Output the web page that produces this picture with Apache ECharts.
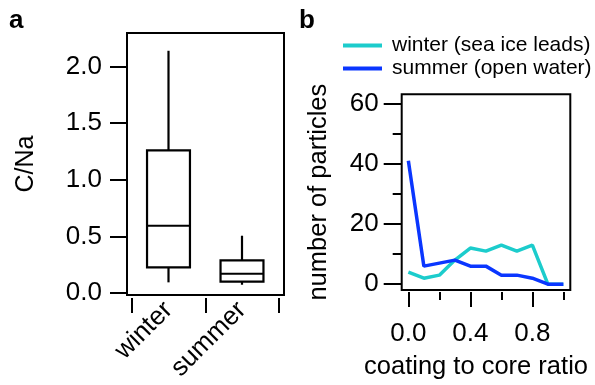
<!DOCTYPE html>
<html><head><meta charset="utf-8">
<script src="https://cdn.jsdelivr.net/npm/echarts@6/dist/echarts.min.js"></script>
<style>html,body{margin:0;padding:0;background:#fff}#c{width:595px;height:385px}</style>
</head><body><div id="c"></div>
<script>
// ---- Panel a: box plot of C/Na ----
const boxCategories = ['winter', 'summer'];
// [min, Q1, median, Q3, max]
const winterBox = [0.094, 0.226, 0.594, 1.26, 2.14];
const summerBox = [0.073, 0.10, 0.17, 0.288, 0.506];
const boxYTicks = [0, 0.5, 1.0, 1.5, 2.0];
const boxXTicks = [-0.5, 0.5, 1.5];

// ---- Panel b: histogram lines ----
const ratioBins = [0.0, 0.1, 0.2, 0.3, 0.4, 0.5, 0.6, 0.7, 0.8, 0.9, 1.0];
const winterCounts = [4, 2, 3, 8, 12, 11, 13, 11, 13, 0, 0];
const summerCounts = [41, 6, 7, 8, 6, 6, 3, 3, 2, 0, 0];
const countMajorTicks = [0, 20, 40, 60];
const countMinorTicks = [10, 30, 50];
const ratioMajorTicks = [0.0, 0.4, 0.8];
const ratioMinorTicks = [0.2, 0.6, 1.0];
const seriesNames = ['winter (sea ice leads)', 'summer (open water)'];

const FONT = 'Liberation Sans';
const BLACK = '#000';
const CYAN = '#1ccccc';
const BLUE = '#0a36ff';
const tickStyle = { color: BLACK, width: 2 };
const noLine = { show: false, onZero: false };

const chart = echarts.init(document.getElementById('c'), null, { renderer: 'canvas' });

function boxRender(params, api) {
  const x = api.value(0);
  const pLo = api.coord([x, api.value(1)]);
  const pQ1 = api.coord([x, api.value(2)]);
  const pMed = api.coord([x, api.value(3)]);
  const pQ3 = api.coord([x, api.value(4)]);
  const pHi = api.coord([x, api.value(5)]);
  const halfW = api.size([1, 0])[0] * 0.292;
  const st = { stroke: BLACK, lineWidth: 2.2, fill: null };
  return {
    type: 'group',
    children: [
      { type: 'line', shape: { x1: pQ3[0], y1: pQ3[1], x2: pHi[0], y2: pHi[1] }, style: st },
      { type: 'line', shape: { x1: pQ1[0], y1: pQ1[1], x2: pLo[0], y2: pLo[1] }, style: st },
      { type: 'rect', shape: { x: pQ3[0] - halfW, y: pQ3[1], width: 2 * halfW, height: pQ1[1] - pQ3[1] },
        style: { stroke: BLACK, lineWidth: 2.2, fill: '#fff' } },
      { type: 'line', shape: { x1: pMed[0] - halfW, y1: pMed[1], x2: pMed[0] + halfW, y2: pMed[1] }, style: st }
    ]
  };
}

const option = {
  backgroundColor: '#fff',
  animation: false,
  textStyle: { fontFamily: FONT, color: BLACK },
  title: [
    { text: 'a', left: 9, top: 8, padding: 0, textStyle: { fontSize: 26, fontWeight: 'bold', color: BLACK, fontFamily: FONT } },
    { text: 'b', left: 299, top: 8, padding: 0, textStyle: { fontSize: 26, fontWeight: 'bold', color: BLACK, fontFamily: FONT } }
  ],
  legend: {
    orient: 'vertical', left: 343, top: 34, padding: 0,
    icon: 'rect', itemWidth: 39, itemHeight: 4, itemGap: 0,
    textStyle: { fontSize: 21, lineHeight: 23, color: BLACK, fontFamily: FONT, padding: [0, 0, 0, 5] },
    data: [
      { name: seriesNames[0], itemStyle: { color: CYAN } },
      { name: seriesNames[1], itemStyle: { color: BLUE } }
    ]
  },
  grid: [
    { left: 127, top: 33, width: 157, height: 262, show: true, borderColor: BLACK, borderWidth: 2, backgroundColor: 'transparent' },
    { left: 401.7, top: 94.3, width: 168.6, height: 201.7, show: true, borderColor: BLACK, borderWidth: 2, backgroundColor: 'transparent' }
  ],
  xAxis: [
    { gridIndex: 0, type: 'value', position: 'bottom', min: -0.5646, max: 1.5714, offset: 3,
      axisLine: noLine, splitLine: { show: false },
      axisTick: { show: true, length: 15, lineStyle: tickStyle, customValues: boxXTicks },
      axisLabel: { customValues: [0, 1], formatter: v => boxCategories[Math.round(v)], rotate: 45, margin: 8,
        fontSize: 26, color: BLACK, fontFamily: FONT } },
    { gridIndex: 1, type: 'value', position: 'bottom', min: -0.043, max: 1.0447, offset: 2,
      axisLine: noLine, splitLine: { show: false },
      axisTick: { show: true, length: 15, lineStyle: tickStyle, customValues: ratioMajorTicks },
      axisLabel: { customValues: ratioMajorTicks, formatter: v => v.toFixed(1), margin: 29,
        fontSize: 26, color: BLACK, fontFamily: FONT },
      name: 'coating to core ratio', nameLocation: 'middle', nameGap: 62,
      nameTextStyle: { fontSize: 25.5, color: BLACK, fontFamily: FONT, padding: [0, 20, 0, 0] } },
    { gridIndex: 1, type: 'value', position: 'bottom', min: -0.043, max: 1.0447, offset: 2,
      axisLine: noLine, splitLine: { show: false },
      axisTick: { show: true, length: 8, lineStyle: tickStyle, customValues: ratioMinorTicks },
      axisLabel: { show: false } }
  ],
  yAxis: [
    { gridIndex: 0, type: 'value', position: 'left', min: -0.0177, max: 2.297,
      axisLine: noLine, splitLine: { show: false },
      axisTick: { show: true, length: 17, lineStyle: tickStyle, customValues: boxYTicks },
      axisLabel: { customValues: boxYTicks, formatter: v => v.toFixed(1), margin: 25,
        fontSize: 26, color: BLACK, fontFamily: FONT },
      name: 'C/Na', nameLocation: 'middle', nameGap: 88,
      nameTextStyle: { fontSize: 25, color: BLACK, fontFamily: FONT } },
    { gridIndex: 1, type: 'value', position: 'left', min: -1.935, max: 63.13,
      axisLine: noLine, splitLine: { show: false },
      axisTick: { show: true, length: 18, lineStyle: tickStyle, customValues: countMajorTicks },
      axisLabel: { customValues: countMajorTicks, formatter: v => String(v), margin: 23,
        fontSize: 26, color: BLACK, fontFamily: FONT },
      name: 'number of particles', nameLocation: 'middle', nameGap: 70,
      nameTextStyle: { fontSize: 25.5, color: BLACK, fontFamily: FONT } },
    { gridIndex: 1, type: 'value', position: 'left', min: -1.935, max: 63.13,
      axisLine: noLine, splitLine: { show: false },
      axisTick: { show: true, length: 9, lineStyle: tickStyle, customValues: countMinorTicks },
      axisLabel: { show: false } }
  ],
  series: [
    { type: 'custom', name: 'C/Na', xAxisIndex: 0, yAxisIndex: 0, renderItem: boxRender, clip: false,
      encode: { x: 0, y: [1, 2, 3, 4, 5] },
      data: [[0].concat(winterBox), [1].concat(summerBox)] },
    { type: 'line', name: seriesNames[0], xAxisIndex: 1, yAxisIndex: 1, symbol: 'none',
      lineStyle: { color: CYAN, width: 3.5 }, itemStyle: { color: CYAN },
      data: ratioBins.map((x, i) => [x, winterCounts[i]]) },
    { type: 'line', name: seriesNames[1], xAxisIndex: 1, yAxisIndex: 1, symbol: 'none',
      lineStyle: { color: BLUE, width: 3.5 }, itemStyle: { color: BLUE },
      data: ratioBins.map((x, i) => [x, summerCounts[i]]) }
  ]
};
chart.setOption(option);
</script>
</body></html>
